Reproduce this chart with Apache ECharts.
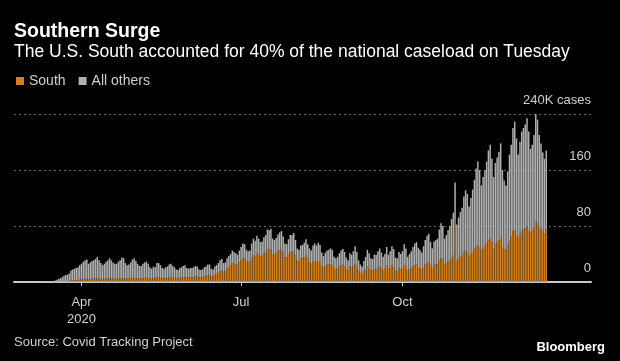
<!DOCTYPE html>
<html>
<head>
<meta charset="utf-8">
<style>
  html, body { margin: 0; padding: 0; background: #000; }
  #chart { width: 620px; height: 361px; }
</style>
<script src="https://cdn.jsdelivr.net/npm/echarts@6/dist/echarts.min.js"></script>
</head>
<body>
<div id="chart"></div>
<script>
// Daily new cases (thousands), one value per day starting 2020-02-23, one line per week (Sun..Sat)
const startDate = '2020-02-23';
const axisDays = 329; // axis runs to 2021-01-16
const seriesNames = ['South', 'All others'];

const south = [
  0,0,0,0,0,0,0,
  0,0,0,0,0,0,0,
  0,0,0,0.1,0.1,0.1,0.1,
  0.1,0.2,0.3,0.4,0.5,0.7,0.9,
  1.1,1.2,1.4,1.6,2.1,2.4,2.6,
  2.8,3.0,3.4,3.8,4.2,4.6,4.8,
  4.0,4.3,4.6,4.8,5.1,5.4,4.9,
  4.2,3.9,4.2,4.6,4.9,5.3,5.0,
  4.6,4.4,4.5,4.9,5.3,5.8,5.6,
  4.8,4.5,4.8,5.3,5.8,6.2,5.7,
  5.0,4.7,4.9,5.5,5.9,6.2,5.8,
  4.9,4.6,5.3,5.2,6.4,6.6,6.0,
  5.2,5.0,5.6,6.0,6.6,7.0,6.4,
  5.8,5.2,5.1,6.0,6.4,7.0,7.3,
  6.4,6.2,6.6,6.8,7.2,8.0,7.8,
  6.6,6.5,7.0,8.2,8.8,10.0,10.2,
  8.4,8.2,10.2,11.5,13.0,15.5,17.0,
  14.5,15.5,19.0,21.5,23.5,26.5,26.0,
  25.0,24.5,28.0,31.0,33.5,33.5,29.0,
  28.0,29.0,35.0,38.5,37.0,40.5,39.0,
  37.0,37.5,41.0,43.0,46.5,46.0,47.0,
  40.0,39.0,41.0,43.5,45.0,46.0,42.0,
  35.5,35.0,39.0,42.0,42.0,43.5,38.0,
  31.0,30.0,33.5,34.0,35.5,37.5,34.0,
  28.0,26.0,29.0,30.5,28.5,30.0,28.5,
  22.5,20.5,23.0,24.5,24.5,25.0,24.0,
  19.5,18.5,19.5,22.0,24.0,24.5,22.5,
  18.5,17.0,22.0,20.5,23.0,25.5,22.0,
  15.5,13.0,11.5,15.5,18.0,22.5,20.0,
  16.5,16.0,18.5,18.5,21.0,22.5,20.0,
  17.0,19.0,24.0,18.5,20.5,23.5,21.5,
  16.0,15.5,19.5,18.0,20.0,24.0,21.5,
  16.0,17.5,19.5,22.0,24.0,25.0,21.5,
  19.5,18.0,21.5,25.0,27.0,28.0,23.5,
  20.0,24.0,25.0,25.5,30.5,33.5,32.0,
  25.0,27.0,29.5,31.5,34.5,37.5,90.0,
  30.5,33.5,36.0,38.0,42.0,44.5,43.0,
  37.0,40.0,43.0,46.5,50.5,53.0,50.0,
  45.0,48.5,51.5,55.0,59.5,62.0,56.5,
  48.5,54.5,57.0,59.5,63.0,50.0,46.0,
  46.0,52.5,60.0,64.5,72.0,74.5,67.0,
  62.0,68.0,73.0,75.0,76.5,79.0,73.0,
  71.0,74.0,79.0,86.0,84.0,79.0,75.0,
  72.0,70.0,75.5
];

const others = [
  0,0,0,0,0,0,0,
  0,0,0.1,0.1,0.1,0.1,0.2,
  0.2,0.3,0.3,0.3,0.4,0.6,0.8,
  1.1,1.4,1.9,2.8,4.0,4.8,5.9,
  7.9,8.8,9.1,10.4,14.4,15.6,16.4,
  17.2,18.0,20.6,22.2,24.8,26.4,27.2,
  22.0,23.7,25.4,26.2,27.9,30.6,26.1,
  22.8,20.1,21.8,24.4,26.1,28.7,26.0,
  23.4,21.6,21.5,24.1,25.7,29.2,28.4,
  22.2,19.5,20.2,22.7,26.2,27.8,24.3,
  21.0,18.3,18.1,20.5,22.1,22.8,20.2,
  16.1,14.4,16.7,15.8,20.6,20.4,18.0,
  14.8,14.0,15.4,16.0,18.4,19.0,16.6,
  15.2,12.8,11.9,14.0,14.6,16.0,16.7,
  13.6,12.8,13.4,13.2,13.8,15.0,14.2,
  11.4,10.5,11.0,12.8,13.2,15.0,14.8,
  10.6,9.8,11.8,12.5,14.0,15.5,16.0,
  12.5,12.5,15.0,15.5,16.5,18.5,17.0,
  16.0,14.5,17.0,19.0,21.5,20.5,17.0,
  16.0,16.0,20.0,23.5,22.0,25.5,23.0,
  20.0,20.5,23.0,24.0,28.5,28.0,29.0,
  22.0,21.0,22.0,24.5,26.0,27.0,23.0,
  19.5,19.0,22.0,25.0,25.0,26.5,22.0,
  17.0,16.0,18.5,19.0,20.5,23.5,20.0,
  20.0,19.0,23.0,24.5,23.5,26.0,24.5,
  19.5,16.5,19.0,20.5,21.5,23.0,22.0,
  16.5,15.5,16.5,19.0,21.0,22.5,20.5,
  16.5,14.0,19.0,18.5,21.0,25.5,21.0,
  15.5,12.0,10.5,14.5,18.0,23.5,21.0,
  17.5,17.0,20.5,20.5,23.0,25.5,22.0,
  19.0,21.0,26.0,20.5,23.5,27.5,25.5,
  19.0,18.5,23.5,22.0,24.0,30.0,26.5,
  20.0,22.5,24.5,28.0,31.0,32.0,27.5,
  26.5,24.0,29.5,35.0,39.0,41.0,33.5,
  28.0,34.0,35.0,36.5,44.5,50.5,48.0,
  37.0,40.0,44.5,48.5,55.5,61.5,52.0,
  51.5,58.5,64.0,68.0,80.0,86.5,83.0,
  71.0,80.0,89.0,99.5,111.5,119.0,110.0,
  93.0,101.5,108.5,117.0,128.5,134.0,119.5,
  101.5,115.5,121.0,126.5,135.0,110.0,99.0,
  92.0,105.5,122.0,131.5,148.0,154.5,138.0,
  120.0,132.0,142.0,145.0,148.5,155.0,142.0,
  119.0,122.0,131.0,154.0,148.0,131.0,123.0,
  113.0,106.0,112.5
];

// x-axis tick labels
const xTickDates = ['2020-04-01', '2020-07-01', '2020-10-01'];
const xTickLabels = ['Apr\n2020', 'Jul', 'Oct'];
// y-axis ticks
const yTicks = [0, 80, 160, 240];
const yTopLabel = '240K cases';

// build category list (dates)
const categories = [];
{
  const d0 = new Date(startDate + 'T00:00:00Z');
  for (let i = 0; i < axisDays; i++) {
    const d = new Date(d0.getTime() + i * 86400000);
    categories.push(d.toISOString().slice(0, 10));
  }
}
const tickMap = {};
xTickDates.forEach((d, i) => { tickMap[d] = xTickLabels[i]; });

const FONT = 'Liberation Sans';
const chart = echarts.init(document.getElementById('chart'), null, { renderer: 'canvas' });
chart.setOption({
  backgroundColor: '#000',
  animation: false,
  textStyle: { fontFamily: FONT },
  title: [
    { text: 'Southern Surge', left: 14, top: 22, padding: 0,
      textStyle: { color: '#fff', fontSize: 19.5, fontWeight: 'bold', fontFamily: FONT } },
    { text: 'The U.S. South accounted for 40% of the national caseload on Tuesday', left: 14, top: 43, padding: 0,
      textStyle: { color: '#fff', fontSize: 17.5, fontWeight: 'normal', fontFamily: FONT } },
    { text: 'Source: Covid Tracking Project', left: 14, top: 336, padding: 0,
      textStyle: { color: '#d0d0d0', fontSize: 13, fontWeight: 'normal', fontFamily: FONT } },
    { text: 'Bloomberg', right: 15, top: 341, padding: 0,
      textStyle: { color: '#fff', fontSize: 13, fontWeight: 'bold', fontFamily: FONT } }
  ],
  legend: {
    left: 16, top: 74, padding: 0,
    itemWidth: 8, itemHeight: 8, itemGap: 13,
    icon: 'rect',
    textStyle: { color: '#d0d0d0', fontSize: 14, fontFamily: FONT },
    data: seriesNames
  },
  grid: { left: 14, right: 29, top: 114, bottom: 79, containLabel: false, outerBoundsMode: 'none' },
  xAxis: {
    type: 'category',
    data: categories,
    boundaryGap: true,
    axisLine: { show: true, lineStyle: { color: '#c8c8c8', width: 2 } },
    axisTick: {
      show: true, alignWithLabel: true, length: 4,
      interval: (idx, val) => tickMap[val] !== undefined,
      lineStyle: { color: '#c8c8c8', width: 1 }
    },
    axisLabel: {
      interval: (idx, val) => tickMap[val] !== undefined,
      formatter: (val) => tickMap[val] || '',
      color: '#d0d0d0', fontSize: 13, margin: 12, lineHeight: 17, fontFamily: FONT
    },
    splitLine: { show: false }
  },
  yAxis: {
    type: 'value',
    position: 'right',
    min: yTicks[0], max: yTicks[yTicks.length - 1], interval: 80,
    axisLine: { show: false },
    axisTick: { show: false },
    axisLabel: {
      inside: true, margin: 0,
      verticalAlign: 'bottom',
      padding: [0, 0, 7, 0],
      color: '#d0d0d0', fontSize: 13, fontFamily: FONT,
      formatter: (v) => v === yTicks[yTicks.length - 1] ? yTopLabel : String(v)
    },
    splitLine: { show: true, lineStyle: { color: '#6a6a6a', type: [2, 3], width: 1 } }
  },
  series: [
    { name: seriesNames[0], type: 'bar', stack: 'total', data: south,
      barCategoryGap: '15%', itemStyle: { color: '#d4801f' }, clip: false },
    { name: seriesNames[1], type: 'bar', stack: 'total', data: others,
      barCategoryGap: '15%', itemStyle: { color: '#b0b0b0' }, clip: false }
  ],
  color: ['#e0901f', '#b8b8b8']
});
</script>
</body>
</html>
